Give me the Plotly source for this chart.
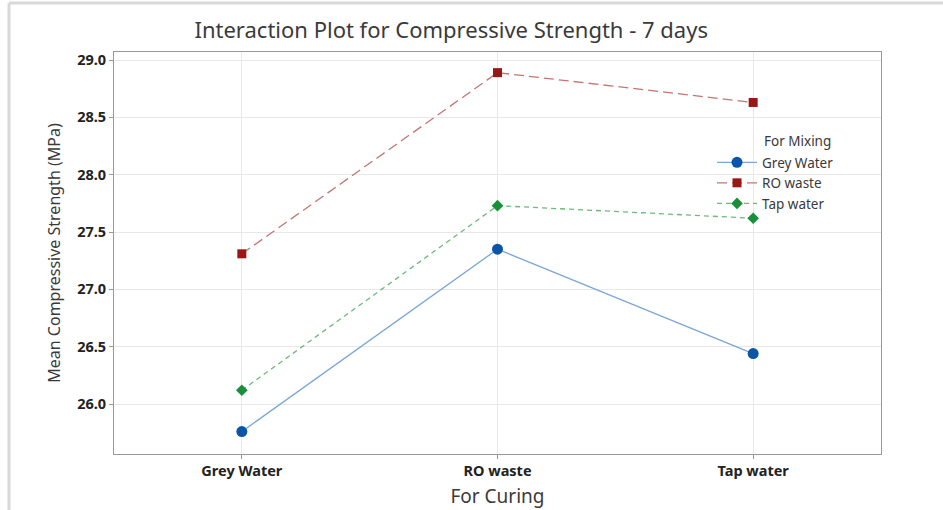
import plotly.graph_objects as go

curing = ["Grey Water", "RO waste", "Tap water"]
mix_names = ["Grey Water", "RO waste", "Tap water"]
grey_vals = [25.76, 27.35, 26.44]
ro_vals = [27.31, 28.89, 28.63]
tap_vals = [26.12, 27.73, 27.62]
y_ticks = [26.0, 26.5, 27.0, 27.5, 28.0, 28.5, 29.0]

series = [
    (mix_names[0], grey_vals, "#7aa6d8", "#0a55a8", "solid", "circle", 11),
    (mix_names[1], ro_vals, "#c47474", "#9b1717", "10px,5px", "square", 9),
    (mix_names[2], tap_vals, "#6cb97c", "#17903a", "5px,4px", "diamond", 9),
]

fig = go.Figure()
for name, vals, lc, mc, dash, sym, sz in series:
    fig.add_trace(go.Scatter(
        x=[0, 1, 2], y=vals, name=name, mode="lines+markers",
        line=dict(color=lc, width=1.3, dash=dash),
        marker=dict(color=mc, symbol=sym, size=sz),
    ))

L, R, T, B = 114, 62, 52, 56
W, H = 943, 510
pw, ph = W - L - R, H - T - B

def px(x):
    return (x - L) / pw

def py(y):
    return (H - B - y) / ph

fig.update_layout(
    width=W, height=H,
    margin=dict(l=L, r=R, t=T, b=B, autoexpand=False),
    paper_bgcolor="white", plot_bgcolor="white",
    font=dict(family="Noto Sans", color="#333333"),
    title=dict(text="Interaction Plot for Compressive Strength - 7 days",
               x=px(481), xanchor="center", y=1 - 30 / H, yanchor="middle",
               font=dict(size=22, color="#3a3a3a")),
    showlegend=True,
    legend=dict(x=px(712), xanchor="left", y=py(147), yanchor="top",
                bgcolor="rgba(0,0,0,0)", font=dict(size=13.5, color="#3a3a3a"),
                tracegroupgap=0, itemwidth=40),
    annotations=[dict(text="For Mixing", xref="paper", yref="paper",
                      x=px(762), y=py(141), xanchor="left", yanchor="middle",
                      showarrow=False, font=dict(size=13.5, color="#3a3a3a"))],
    shapes=[
        dict(type="line", xref="paper", yref="paper", x0=px(9), x1=px(9),
             y0=py(3), y1=py(510), line=dict(color="#d8d8d8", width=3)),
        dict(type="line", xref="paper", yref="paper", x0=px(9), x1=px(943),
             y0=py(3), y1=py(3), line=dict(color="#d8d8d8", width=3)),
    ],
)

fig.update_xaxes(
    range=[-0.5, 2.5], tickvals=[0, 1, 2], ticktext=curing,
    showgrid=True, gridcolor="#e8e8e8", gridwidth=1,
    showline=True, linecolor="#999999", linewidth=1, mirror=True,
    ticks="outside", ticklen=4, tickcolor="#999999",
    tickfont=dict(size=14.5, color="#222222", weight="bold"),
    title=dict(text="For Curing", font=dict(size=19, color="#3a3a3a"), standoff=10),
    zeroline=False, automargin=False,
)
fig.update_yaxes(
    range=[25.564, 29.07], tickvals=y_ticks,
    ticktext=[f"{v:.1f}" for v in y_ticks],
    showgrid=True, gridcolor="#e8e8e8", gridwidth=1,
    showline=True, linecolor="#999999", linewidth=1, mirror=True,
    ticks="outside", ticklen=4, tickcolor="#999999",
    tickfont=dict(size=14.5, color="#222222", weight="bold"),
    title=dict(text="Mean Compressive Strength (MPa)", font=dict(size=16, color="#3a3a3a"), standoff=12),
    zeroline=False, automargin=False,
)

fig.write_html("out.html")
